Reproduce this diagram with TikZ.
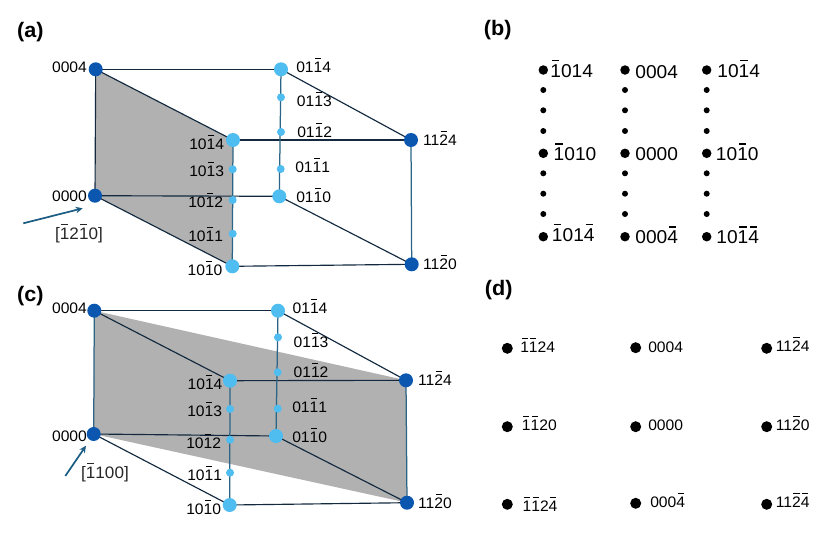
\documentclass[tikz,border=0pt]{standalone}
\usepackage{fontspec}
\setmainfont{Liberation Sans}[FakeStretch=1.03]
\usetikzlibrary{backgrounds,arrows.meta}
\definecolor{dk}{HTML}{0B57B0}
\definecolor{lt}{HTML}{4FBDF0}
\definecolor{edgecol}{HTML}{12293F}
\definecolor{tealcol}{HTML}{2A6486}
\definecolor{arrcol}{HTML}{1B5C82}
\definecolor{facecol}{HTML}{B1B1B1}
\newcommand\ob[1]{\sbox0{#1}\rlap{\hbox to\wd0{\hss\raisebox{.88em}{\rule{.4em}{.07em}}\hss}}\usebox0}
\tikzset{
 dkbig/.style={circle,fill=dk,inner sep=0,minimum size=14pt},
 ltbig/.style={circle,fill=lt,inner sep=0,minimum size=14pt},
 ltsmall/.style={circle,fill=lt,inner sep=0,minimum size=8pt},
 lbl/.style={anchor=base,yshift=-5.4pt,inner sep=0,font=\fontsize{15.2}{18}\selectfont,text=black},
 lbldir/.style={anchor=base,yshift=-5.8pt,inner sep=0,font=\fontsize{16.6}{20}\selectfont,text=black!85},
 lblb/.style={anchor=base,yshift=-6.6pt,inner sep=0,font=\fontsize{18.6}{22}\selectfont,text=black},
 title/.style={inner sep=0,font=\fontsize{21}{25}\selectfont\bfseries,text=black},
 bigb/.style={circle,fill=black,inner sep=0,minimum size=9.5pt},
 smallb/.style={circle,fill=black,inner sep=0,minimum size=6pt},
 bigd/.style={circle,fill=black,inner sep=0,minimum size=11pt},
 eline/.style={draw=edgecol,line width=1.15pt},
 tline/.style={draw=tealcol,line width=1.25pt},
 dirarrow/.style={draw=arrcol,line width=1.7pt,-{Stealth[length=7pt,width=6.5pt]}}
}
\begin{document}
\begin{tikzpicture}[x=1pt,y=-1pt]
\useasboundingbox (0,0) rectangle (831,547);
% panel (a)
\node[dkbig] (a1) at (95.7,69.3) {};
\node[ltbig] (a2) at (281,69.3) {};
\node[ltbig] (a3) at (233,140) {};
\node[dkbig] (a4) at (411,140) {};
\node[dkbig] (a5) at (95,195.7) {};
\node[ltbig] (a6) at (279.3,196.3) {};
\node[ltbig] (a7) at (232.3,266.3) {};
\node[dkbig] (a8) at (411.7,264.3) {};
\node[ltsmall] (a21) at (281,97.3) {};
\node[ltsmall] (a22) at (281,132) {};
\node[ltsmall] (a23) at (280.7,169) {};
\node[ltsmall] (a31) at (232.7,169.3) {};
\node[ltsmall] (a32) at (232.7,200) {};
\node[ltsmall] (a33) at (232.7,233.7) {};
\coordinate (afrom) at (23.3,223.3);
\coordinate (ato) at (82.7,208.3);
% panel (c)
\node[dkbig] (c1) at (94.3,310.7) {};
\node[ltbig] (c2) at (278,310.7) {};
\node[ltbig] (c3) at (230,380.7) {};
\node[dkbig] (c4) at (406,380.3) {};
\node[dkbig] (c5) at (93.7,434) {};
\node[ltbig] (c6) at (276,436) {};
\node[ltbig] (c7) at (229.7,505) {};
\node[dkbig] (c8) at (407,502.7) {};
\node[ltsmall] (c21) at (278,337.3) {};
\node[ltsmall] (c22) at (277.7,372.3) {};
\node[ltsmall] (c23) at (277.7,408.7) {};
\node[ltsmall] (c31) at (230,409) {};
\node[ltsmall] (c32) at (230,439.7) {};
\node[ltsmall] (c33) at (230,472.7) {};
\coordinate (cfrom) at (65.3,476);
\coordinate (cto) at (86,445.7);
\begin{scope}[on background layer]
 \fill[facecol] (a1.center) -- (a3.center) -- (a7.center) -- (a5.center) -- cycle;
 \fill[facecol] (c1.center) -- (c4.center) -- (c8.center) -- (c5.center) -- cycle;
 \path[eline] (a1.center) -- (a2.center);
 \path[eline] (a1.center) -- (a5.center);
 \path[eline] (a1.center) -- (a3.center);
 \path[eline] (a2.center) -- (a4.center);
 \path[eline] (a3.center) -- (a4.center);
 \path[eline] (a5.center) -- (a6.center);
 \path[eline] (a5.center) -- (a7.center);
 \path[eline] (a6.center) -- (a8.center);
 \path[eline] (a7.center) -- (a8.center);
 \path[tline] (a2.center) -- (a6.center);
 \path[tline] (a3.center) -- (a7.center);
 \path[tline] (a4.center) -- (a8.center);
 \path[eline] (c1.center) -- (c2.center);
 \path[tline] (c1.center) -- (c5.center);
 \path[eline] (c1.center) -- (c3.center);
 \path[eline] (c2.center) -- (c4.center);
 \path[eline] (c3.center) -- (c4.center);
 \path[eline] (c5.center) -- (c6.center);
 \path[eline] (c5.center) -- (c7.center);
 \path[eline] (c6.center) -- (c8.center);
 \path[eline] (c7.center) -- (c8.center);
 \path[tline] (c2.center) -- (c6.center);
 \path[tline] (c3.center) -- (c7.center);
 \path[tline] (c4.center) -- (c8.center);
\end{scope}
\draw[dirarrow] (afrom) -- (ato);
\draw[dirarrow] (cfrom) -- (cto);
% labels (a)
\node[lbl] (la1) at (69.5,67) {0004};
\node[lbl] (la2) at (313.7,66.7) {01\ob{1}4};
\node[lbl] (la21) at (314.3,100.7) {01\ob{1}3};
\node[lbl] (la22) at (314.7,132) {01\ob{1}2};
\node[lbl] (la23) at (312.7,167.3) {01\ob{1}1};
\node[lbl] (la6) at (313.7,197.3) {01\ob{1}0};
\node[lbl] (la3) at (206.7,144.3) {10\ob{1}4};
\node[lbl] (la31) at (206.7,171) {10\ob{1}3};
\node[lbl] (la32) at (205.7,202.3) {10\ob{1}2};
\node[lbl] (la33) at (205.7,236) {10\ob{1}1};
\node[lbl] (la7) at (205,270) {10\ob{1}0};
\node[lbl] (la5) at (69.5,195.7) {0000};
\node[lbl] (la4) at (440,140) {11\ob{2}4};
\node[lbl] (la8) at (440,264) {11\ob{2}0};
\node[lbldir] (ladir) at (79,234) {[\ob{1}2\ob{1}0]};
% labels (c)
\node[lbl] (lc1) at (69.5,308) {0004};
\node[lbl] (lc2) at (310,308) {01\ob{1}4};
\node[lbl] (lc21) at (311,342) {01\ob{1}3};
\node[lbl] (lc22) at (311,372) {01\ob{1}2};
\node[lbl] (lc23) at (309.7,407) {01\ob{1}1};
\node[lbl] (lc6) at (309.7,436.7) {01\ob{1}0};
\node[lbl] (lc3) at (205,384.3) {10\ob{1}4};
\node[lbl] (lc31) at (204.7,411) {10\ob{1}3};
\node[lbl] (lc32) at (203.7,442.7) {10\ob{1}2};
\node[lbl] (lc33) at (204.7,475.3) {10\ob{1}1};
\node[lbl] (lc7) at (203.7,509.3) {10\ob{1}0};
\node[lbl] (lc5) at (69.5,435.7) {0000};
\node[lbl] (lc4) at (435,380) {11\ob{2}4};
\node[lbl] (lc8) at (435,503) {11\ob{2}0};
\node[lbldir] (lcdir) at (105,472.7) {[\ob{1}100]};
% titles
\node[title] (ta) at (30.3,31.7) {(a)};
\node[title] (tb) at (497.7,30) {(b)};
\node[title] (tc) at (30.3,296) {(c)};
\node[title] (td) at (498.7,290) {(d)};
% panel (b)
\foreach \c/\x in {1/543.3,2/625,3/706.7}{
 \foreach \r/\y in {1/70,5/153.3,9/236.7}{
  \node[bigb] (b\c\r) at (\x,\y) {};
 }
 \foreach \r/\y in {2/90,3/110.3,4/131,6/173.3,7/193.7,8/214}{
  \node[smallb] (b\c\r) at (\x,\y) {};
 }
}
\node[lblb] (lb1) at (571.7,71) {\ob{1}014};
\node[lblb] (lb2) at (656.7,72.3) {0004};
\node[lblb] (lb3) at (738.7,71) {10\ob{1}4};
\node[lblb] (lb4) at (575,154.3) {\ob{1}010};
\node[lblb] (lb5) at (656.7,154.3) {0000};
\node[lblb] (lb6) at (737.3,154.3) {10\ob{1}0};
\node[lblb] (lb7) at (573.3,235) {\ob{1}01\ob{4}};
\node[lblb] (lb8) at (656.7,237.3) {000\ob{4}};
\node[lblb] (lb9) at (737.7,237.3) {10\ob{1}\ob{4}};
% panel (d)
\node[bigd] (d1) at (507.3,348.3) {};
\node[bigd] (d2) at (635.7,347.7) {};
\node[bigd] (d3) at (766.7,348.3) {};
\node[bigd] (d4) at (507.3,426.7) {};
\node[bigd] (d5) at (635.7,426.7) {};
\node[bigd] (d6) at (766.7,426.7) {};
\node[bigd] (d7) at (507.3,504.3) {};
\node[bigd] (d8) at (635.7,503.3) {};
\node[bigd] (d9) at (766.7,504.3) {};
\node[lbl] (ld1) at (537.7,346.7) {\ob{1}\ob{1}24};
\node[lbl] (ld2) at (665.7,346.7) {0004};
\node[lbl] (ld3) at (792.7,346) {11\ob{2}4};
\node[lbl] (ld4) at (539.3,425) {\ob{1}\ob{1}20};
\node[lbl] (ld5) at (665.7,425) {0000};
\node[lbl] (ld6) at (792.7,425) {11\ob{2}0};
\node[lbl] (ld7) at (540,506) {\ob{1}\ob{1}2\ob{4}};
\node[lbl] (ld8) at (667.7,502.3) {000\ob{4}};
\node[lbl] (ld9) at (792.7,501.7) {11\ob{2}\ob{4}};
\end{tikzpicture}
\end{document}
